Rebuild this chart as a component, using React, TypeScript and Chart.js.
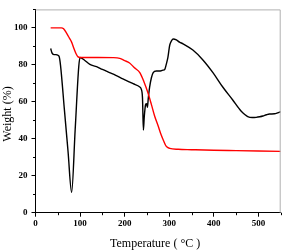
import React, { useEffect, useRef } from "react";
import { Chart, registerables } from "chart.js";

Chart.register(...registerables);

// Black curve (DTG-like trace)
const blackTemp = [34, 37, 40, 46, 50, 53, 56, 65, 73, 81, 89, 97, 100, 110, 122, 137, 150, 166, 180, 196, 210, 219, 234, 237, 240, 242, 244, 247, 249, 251, 253, 256, 260, 264, 271, 280, 286, 290, 293, 297, 301, 305, 309, 316, 323, 331, 353, 375, 398, 420, 442, 461, 470, 476, 486, 495, 503, 510, 518, 525, 536, 543, 550];
const blackWeight = [88.8, 86.5, 85.7, 85.5, 85.2, 84.5, 80, 55.2, 33.1, 11, 45, 79, 84, 82.5, 80.2, 79, 77.5, 75.8, 74.3, 72.4, 70.8, 69.8, 68, 67, 62, 44.7, 52, 58.5, 59, 57, 62, 68, 73, 75.8, 76.7, 76.7, 77.1, 77.6, 80, 84, 90.6, 93, 94, 93.5, 92.3, 91.4, 88, 82.8, 75.8, 68, 61.1, 55, 53, 52, 51.5, 51.6, 51.9, 52.3, 53, 53.4, 53.5, 54, 54.7];

// Red curve (TG weight loss)
const redTemp = [34, 45, 58, 63, 70, 76, 81, 86, 91, 95.5, 100, 140, 175, 189, 200, 211, 222, 234, 243, 252, 260, 267, 275, 282, 288, 293, 301, 320, 350, 400, 450, 500, 550];
const redWeight = [100, 100, 100, 99.5, 97, 94.5, 92.3, 89, 86, 84.3, 84, 84, 83.9, 83.5, 82.3, 81, 78.4, 75.8, 71, 65, 58.5, 52.5, 47, 42, 38.5, 36, 34.8, 34.3, 34.1, 33.8, 33.6, 33.4, 33.2];

const xTickValues = [0, 100, 200, 300, 400, 500];
const yTickValues = [0, 20, 40, 60, 80, 100];
const xMinorTicks = [50, 150, 250, 350, 450, 550];
const yMinorTicks = [10, 30, 50, 70, 90, 110];

const xTitle = "Temperature ( \u00B0C )";
const yTitle = "Weight (%)";

const toPoints = (xs: number[], ys: number[]) => xs.map((x, i) => ({ x, y: ys[i] }));

const framePlugin = {
  id: "frameAndMinor",
  afterDraw(chart: any) {
    const { ctx, chartArea } = chart;
    const { left, right, top, bottom } = chartArea;
    const xs = chart.scales.x;
    const ys = chart.scales.y;
    ctx.save();
    // light grey top and right frame
    ctx.strokeStyle = "#b0b0b0";
    ctx.lineWidth = 1;
    ctx.beginPath();
    ctx.moveTo(left, top + 0.5);
    ctx.lineTo(right - 0.5, top + 0.5);
    ctx.lineTo(right - 0.5, bottom);
    ctx.stroke();
    // minor ticks
    ctx.strokeStyle = "#000";
    ctx.beginPath();
    xMinorTicks.forEach((v) => {
      const px = Math.round(xs.getPixelForValue(v)) + 0.5;
      ctx.moveTo(px, bottom);
      ctx.lineTo(px, bottom + 2.5);
    });
    yMinorTicks.forEach((v) => {
      const py = Math.round(ys.getPixelForValue(v)) + 0.5;
      ctx.moveTo(left, py);
      ctx.lineTo(left - 2.5, py);
    });
    ctx.stroke();
    // axis titles
    ctx.fillStyle = "#000";
    ctx.font = "12px 'Liberation Serif', 'Times New Roman', serif";
    ctx.textAlign = "center";
    ctx.textBaseline = "middle";
    ctx.fillText(xTitle, (left + right) / 2 - 3, 244);
    ctx.translate(7.5, 114);
    ctx.rotate(-Math.PI / 2);
    ctx.fillText(yTitle, 0, 0);
    ctx.restore();
  },
};

export default function App() {
  const ref = useRef<HTMLCanvasElement>(null);
  useEffect(() => {
    if (!ref.current) return;
    const tickFont = { family: "'Liberation Serif', 'Times New Roman', serif", size: 9, weight: "bold" as const };
    const chart = new Chart(ref.current, {
      type: "line",
      data: {
        datasets: [
          {
            data: toPoints(redTemp, redWeight),
            borderColor: "#ff0000",
            borderWidth: 1.4,
            pointRadius: 0,
            cubicInterpolationMode: "monotone",
            fill: false,
          },
          {
            data: toPoints(blackTemp, blackWeight),
            borderColor: "#000000",
            borderWidth: 1.4,
            pointRadius: 0,
            cubicInterpolationMode: "monotone",
            fill: false,
          },
        ],
      },
      options: {
        animation: false,
        responsive: true,
        maintainAspectRatio: false,
        layout: { padding: { left: 0, top: 1, right: 2.3, bottom: 0 } },
        plugins: { legend: { display: false }, tooltip: { enabled: false } },
        scales: {
          x: {
            type: "linear",
            min: 0,
            max: 550,
            afterFit: (s: any) => { s.height = 39.3; },
            afterBuildTicks: (s: any) => { s.ticks = xTickValues.map((v) => ({ value: v })); },
            ticks: { color: "#000", font: tickFont, padding: 2, maxRotation: 0, includeBounds: false },
            grid: { display: true, drawOnChartArea: false, drawTicks: true, tickLength: 4, tickColor: "#000" },
            border: { display: true, color: "#000", width: 1 },
          },
          y: {
            type: "linear",
            min: 0,
            max: 110,
            afterFit: (s: any) => { s.width = 35.5; },
            afterBuildTicks: (s: any) => { s.ticks = yTickValues.map((v) => ({ value: v })); },
            ticks: { color: "#000", font: tickFont, padding: 4, includeBounds: false },
            grid: { display: true, drawOnChartArea: false, drawTicks: true, tickLength: 4, tickColor: "#000" },
            border: { display: true, color: "#000", width: 1 },
          },
        },
      },
      plugins: [framePlugin],
    });
    return () => chart.destroy();
  }, []);
  return (
    <div style={{ position: "absolute", left: 0, top: 0, width: 283, height: 252, background: "#fff" }}>
      <canvas ref={ref} />
    </div>
  );
}
